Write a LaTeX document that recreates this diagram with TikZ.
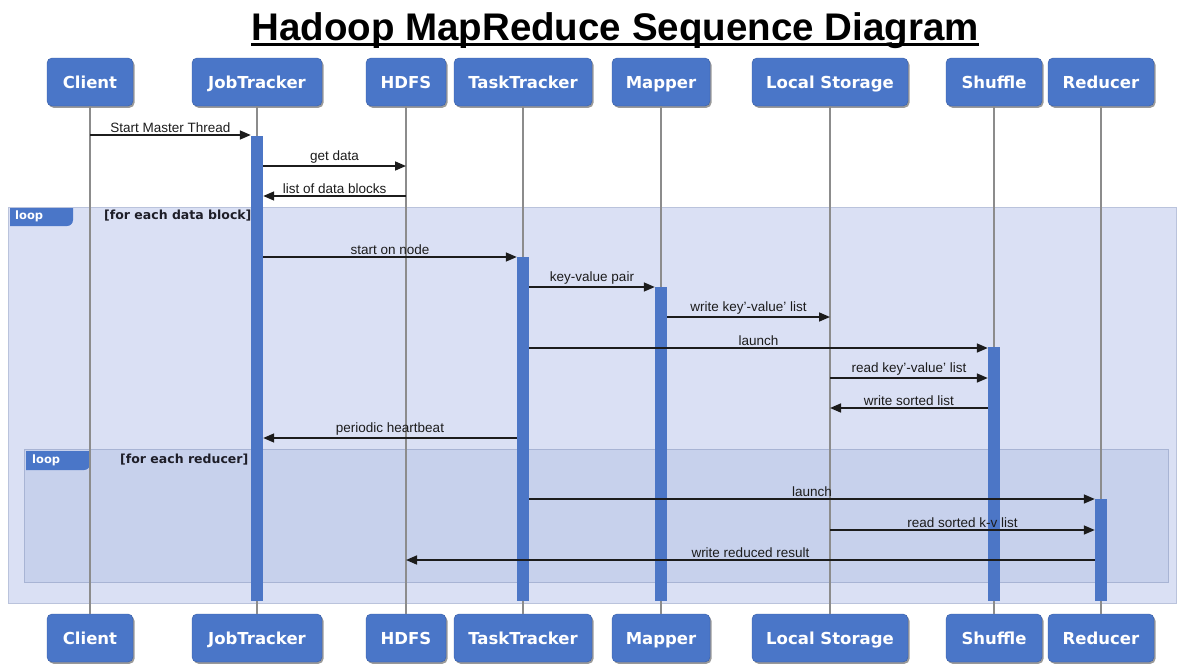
\documentclass[tikz,border=0pt]{standalone}
\usepackage{fontspec}
\setmainfont{Liberation Sans}
\newfontfamily\boxfont{DejaVu Sans}
\usetikzlibrary{arrows.meta,shadows}

\definecolor{boxblue}{RGB}{74,118,200}
\definecolor{boxedge}{RGB}{56,94,166}
\definecolor{barblue}{RGB}{76,118,198}
\definecolor{outerfill}{RGB}{218,224,244}
\definecolor{outeredge}{RGB}{186,195,220}
\definecolor{innerfill}{RGB}{199,209,236}
\definecolor{inneredge}{RGB}{168,180,212}
\definecolor{lifegray}{RGB}{140,140,140}
\definecolor{msgink}{RGB}{28,28,28}
\definecolor{guardink}{RGB}{30,30,40}

\begin{document}
\begin{tikzpicture}[x=1pt,y=-1pt,
  actor/.style={draw=boxedge, fill=boxblue, rounded corners=5pt,
    minimum height=48pt, inner sep=0pt, text=white,
    text height=12pt, text depth=0pt,
    font=\boxfont\bfseries\fontsize{16.5}{19}\selectfont,
    drop shadow={shadow xshift=1.5pt, shadow yshift=-1.8pt, opacity=.5, fill=black!80}},
  lifeline/.style={draw=lifegray, line width=1.3pt},
  actbar/.style={fill=barblue, draw=none, minimum width=12pt, inner sep=0pt, anchor=north},
  msg/.style={draw=msgink, line width=1.6pt, -{Triangle[length=11pt,width=9pt]}},
  lbl/.style={midway, above, inner sep=1.5pt, text=msgink, font=\fontsize{13.5}{15}\selectfont},
  outerframe/.style={fill=outerfill, draw=outeredge, line width=0.8pt},
  innerframe/.style={fill=innerfill, draw=inneredge, line width=0.8pt},
  looptag/.style={anchor=west, inner sep=0pt, text=white, font=\boxfont\bfseries\fontsize{11.5}{13}\selectfont},
  guard/.style={anchor=west, inner sep=0pt, text=guardink, font=\boxfont\bfseries\fontsize{12.5}{15}\selectfont}
]
\useasboundingbox (0,0) rectangle (1179,664);

% title
\node[anchor=base, inner sep=0pt, font=\bfseries\fontsize{38.5}{42}\selectfont] (title) at (615,40) {Hadoop MapReduce Sequence Diagram};
\draw[line width=2.4pt] ([yshift=-4.5pt]title.base west) -- ([yshift=-4.5pt]title.base east);

% combined fragments
\draw[outerframe] (8,207) rectangle (1176,603);
\fill[boxblue] (10,208) -- (73,208) -- (73,220) to[out=-90,in=0] (67,226) -- (10,226) -- cycle;
\node[looptag] (loopA) at (15,216) {loop};
\node[guard] (guardA) at (104,216) {[for each data block]};

\draw[innerframe] (24,449) rectangle (1168,582);
\fill[boxblue] (26,451) -- (90,451) -- (90,464) to[out=-90,in=0] (84,470) -- (26,470) -- cycle;
\node[looptag] (loopB) at (32,460) {loop};
\node[guard] (guardB) at (120,460) {[for each reducer]};

% participants, top row
\node[actor, minimum width=86pt]  (cliT) at (90,82)   {Client};
\node[actor, minimum width=130pt] (jtT)  at (257,82)  {JobTracker};
\node[actor, minimum width=80pt]  (hdT)  at (406,82)  {HDFS};
\node[actor, minimum width=138pt] (ttT)  at (523,82)  {TaskTracker};
\node[actor, minimum width=98pt]  (mpT)  at (661,82)  {Mapper};
\node[actor, minimum width=156pt] (lsT)  at (830,82)  {Local Storage};
\node[actor, minimum width=96pt]  (shT)  at (994,82)  {Shuffle};
\node[actor, minimum width=106pt] (rdT)  at (1101,82) {Reducer};

% participants, bottom row
\node[actor, minimum width=86pt]  (cliB) at (90,638)   {Client};
\node[actor, minimum width=130pt] (jtB)  at (257,638)  {JobTracker};
\node[actor, minimum width=80pt]  (hdB)  at (406,638)  {HDFS};
\node[actor, minimum width=138pt] (ttB)  at (523,638)  {TaskTracker};
\node[actor, minimum width=98pt]  (mpB)  at (661,638)  {Mapper};
\node[actor, minimum width=156pt] (lsB)  at (830,638)  {Local Storage};
\node[actor, minimum width=96pt]  (shB)  at (994,638)  {Shuffle};
\node[actor, minimum width=106pt] (rdB)  at (1101,638) {Reducer};

% lifelines
\foreach \p in {cli,jt,hd,tt,mp,ls,sh,rd}
  \draw[lifeline] (\p T.south) -- (\p B.north);

% activation bars
\node[actbar, minimum height=465pt] (jtbar) at (257,136) {};
\node[actbar, minimum height=344pt] (ttbar) at (523,257) {};
\node[actbar, minimum height=314pt] (mpbar) at (661,287) {};
\node[actbar, minimum height=254pt] (shbar) at (994,347) {};
\node[actbar, minimum height=102pt] (rdbar) at (1101,499) {};

% message rows
\coordinate (m1)  at (0,135);
\coordinate (m2)  at (0,166);
\coordinate (m3)  at (0,196);
\coordinate (m4)  at (0,257);
\coordinate (m5)  at (0,287);
\coordinate (m6)  at (0,317);
\coordinate (m7)  at (0,348);
\coordinate (m8)  at (0,378);
\coordinate (m9)  at (0,408);
\coordinate (m10) at (0,438);
\coordinate (m11) at (0,499);
\coordinate (m12) at (0,530);
\coordinate (m13) at (0,560);

% messages
\draw[msg] (cliT |- m1) -- node[lbl] {Start Master Thread} (jtbar.west |- m1);
\draw[msg] (jtbar.east |- m2) -- node[lbl] {get data} (hdT |- m2);
\draw[msg] (hdT |- m3) -- node[lbl] {list of data blocks} (jtbar.east |- m3);
\draw[msg] (jtbar.east |- m4) -- node[lbl] {start on node} (ttbar.west |- m4);
\draw[msg] (ttbar.east |- m5) -- node[lbl] {key-value pair} (mpbar.west |- m5);
\draw[msg] (mpbar.east |- m6) -- node[lbl] {write key'-value' list} (lsT |- m6);
\draw[msg] (ttbar.east |- m7) -- node[lbl] {launch} (shbar.west |- m7);
\draw[msg] (lsT |- m8) -- node[lbl] {read key'-value' list} (shbar.west |- m8);
\draw[msg] (shbar.west |- m9) -- node[lbl] {write sorted list} (lsT |- m9);
\draw[msg] (ttbar.west |- m10) -- node[lbl] {periodic heartbeat} (jtbar.east |- m10);
\draw[msg] (ttbar.east |- m11) -- node[lbl] {launch} (rdbar.west |- m11);
\draw[msg] (lsT |- m12) -- node[lbl] {read sorted k-v list} (rdbar.west |- m12);
\draw[msg] (rdbar.west |- m13) -- node[lbl] {write reduced result} (hdT |- m13);
\end{tikzpicture}
\end{document}
